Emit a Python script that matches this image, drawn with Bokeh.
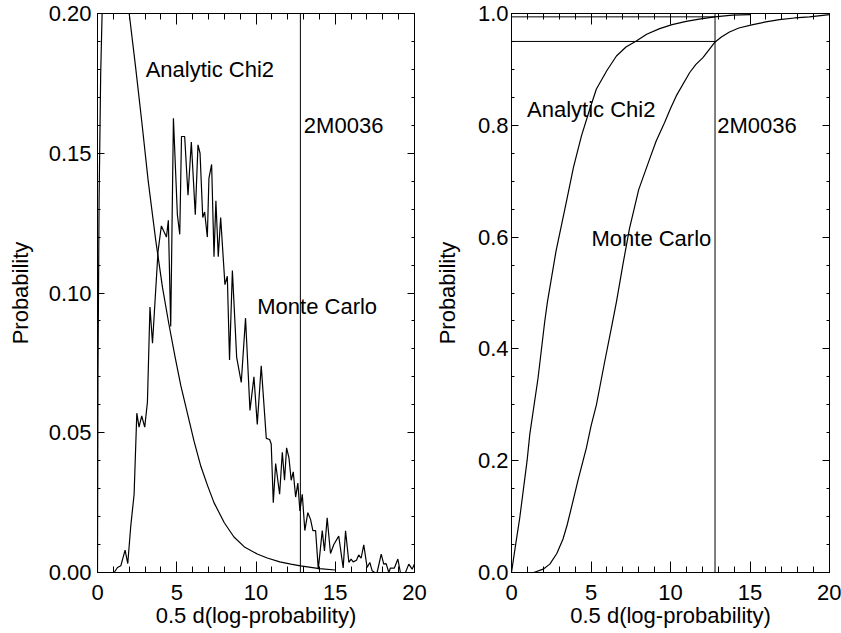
from bokeh.plotting import figure
from bokeh.layouts import row
from bokeh.models import Range1d, FixedTicker, LinearAxis, Span, PrintfTickFormatter
from bokeh.core.properties import value
from bokeh.embed import file_html
from bokeh.resources import INLINE

FONT = "Liberation Sans"

# ---------------- data ----------------
# Monte Carlo histogram (left panel)
mc_pdf_x = [0.94, 1.05, 1.26, 1.47, 1.74, 1.91, 2.10, 2.31, 2.48, 2.62, 2.79, 2.98, 3.15, 3.31, 3.47,
            3.82, 4.03, 4.35, 4.47, 4.62, 4.79, 5.04, 5.19, 5.30, 5.50, 5.71, 5.92, 6.17, 6.34, 6.47,
            6.64, 6.76, 6.93, 7.03, 7.20, 7.35, 7.47, 7.62, 7.77, 8.04, 8.19, 8.33, 8.51, 8.78, 9.07,
            9.34, 9.62, 9.87, 10.08, 10.33, 10.65, 10.86, 10.96, 11.09, 11.24, 11.49, 11.66, 11.80,
            11.93, 12.08, 12.22, 12.35, 12.50, 12.64, 12.77, 12.92, 13.08, 13.27, 13.44, 13.59, 13.76,
            13.93, 14.18, 14.32, 14.49, 14.70, 14.91, 15.22, 15.50, 15.65, 15.86, 16.00, 16.13, 16.34,
            16.48, 16.63, 16.80, 17.01, 17.18, 17.33, 17.49, 17.64, 17.90, 18.06, 18.21, 18.38, 18.48,
            18.73, 18.95, 19.11, 19.43, 19.64, 19.85, 20.0]
mc_pdf_y = [0.0, 0.0, 0.0018, 0.0024, 0.008, 0.0032, 0.0167, 0.028, 0.057, 0.052, 0.056, 0.052, 0.061, 0.095, 0.082,
            0.115, 0.124, 0.120, 0.126, 0.088, 0.1625, 0.128, 0.121, 0.156, 0.156, 0.135, 0.154, 0.128, 0.153, 0.150,
            0.127, 0.129, 0.120, 0.141, 0.146, 0.113, 0.133, 0.113, 0.127, 0.103, 0.106, 0.076, 0.108, 0.077, 0.068,
            0.091, 0.058, 0.070, 0.053, 0.074, 0.048, 0.0476, 0.046, 0.025, 0.039, 0.028, 0.043, 0.033,
            0.0446, 0.041, 0.033, 0.036, 0.027, 0.032, 0.022, 0.028, 0.015, 0.0214, 0.019, 0.015, 0.015,
            0.0012, 0.015, 0.0077, 0.0196, 0.0068, 0.010, 0.013, 0.0016, 0.0149, 0.0036, 0.0048, 0.0038, 0.0044,
            0.0063, 0.0051, 0.0099, 0.0018, 0.0036, 0.0006, 0.0, 0.0, 0.0066, 0.003, 0.0032, 0.0, 0.0016,
            0.0016, 0.0048, 0.0, 0.0, 0.003, 0.0012, 0.003]

# Analytic chi2 density (left panel)
an_pdf_x = [0.0, 0.03, 0.10, 0.20, 0.29, 0.50, 0.90, 1.40, 2.00, 2.40, 2.80, 3.20, 3.67, 4.10, 4.50,
            4.90, 5.25, 5.67, 6.09, 6.52, 6.95, 7.35, 8.00, 8.61, 9.30, 10.08, 10.71, 11.50, 12.20,
            12.81, 14.00, 15.00]
an_pdf_y = [0.0, 0.07, 0.133, 0.178, 0.200, 0.225, 0.243, 0.235, 0.200, 0.181, 0.161, 0.140, 0.119, 0.102, 0.089,
            0.077, 0.067, 0.057, 0.047, 0.038, 0.031, 0.025, 0.0178, 0.0127, 0.0090, 0.0066, 0.0052, 0.0038, 0.0030,
            0.0024, 0.0014, 0.0009]

# Cumulative distributions (right panel)
mc_cdf_x = [1.0, 1.4, 1.99, 2.41, 2.85, 3.24, 3.50, 3.87, 4.20, 4.71, 5.00, 5.34, 5.86, 6.28, 6.60, 7.00,
            7.42, 8.00, 8.69, 9.10, 9.63, 10.00, 10.37, 11.20, 11.60, 12.04, 12.77, 13.20, 13.71, 14.30,
            15.18, 16.00, 16.85, 17.80, 18.74, 20.0]
mc_cdf_y = [0.0, 0.0, 0.006, 0.015, 0.034, 0.060, 0.085, 0.128, 0.167, 0.223, 0.262, 0.300, 0.377, 0.437, 0.484, 0.550,
            0.615, 0.685, 0.740, 0.772, 0.805, 0.830, 0.853, 0.894, 0.909, 0.921, 0.948, 0.958, 0.967, 0.974,
            0.980, 0.985, 0.989, 0.992, 0.994, 0.998]
an_cdf_x = [0.0, 0.25, 0.52, 0.98, 1.15, 1.67, 2.09, 2.26, 2.80, 3.45, 3.90, 4.40, 4.90, 5.34, 6.00, 6.60,
            7.20, 7.85, 8.50, 9.32, 10.10, 10.99, 11.80, 12.77, 13.90, 15.0]
an_cdf_y = [0.0, 0.048, 0.098, 0.200, 0.247, 0.348, 0.449, 0.484, 0.575, 0.663, 0.725, 0.781, 0.827, 0.865, 0.898, 0.924,
            0.940, 0.951, 0.963, 0.973, 0.980, 0.986, 0.990, 0.994, 0.997, 0.998]

# 2M0036 value and the cumulative probabilities reached there
obj_name = "2M0036"
obj_x = 12.8
obj_cdf_analytic = 0.994
obj_cdf_mc = 0.950

# ticks
x_major = [0, 5, 10, 15, 20]
x_minor = list(range(0, 21))
y1_major = [0.0, 0.05, 0.10, 0.15, 0.20]
y1_minor = [i / 100 for i in range(0, 21)]
y2_major = [0.0, 0.2, 0.4, 0.6, 0.8, 1.0]
y2_minor = [i / 20 for i in range(0, 21)]

x_title = "0.5 d(log-probability)"
y_title = "Probability"
lab_an = "Analytic Chi2"
lab_mc = "Monte Carlo"

FS = "22px"
LW = 1.2


def style(ax, major_in, minor_in, labels=True, standoff=6, title_standoff=0):
    ax.major_tick_in = major_in
    ax.major_tick_out = 0
    ax.minor_tick_in = minor_in
    ax.minor_tick_out = 0
    ax.axis_line_color = "black"
    ax.major_tick_line_color = "black"
    ax.minor_tick_line_color = "black"
    ax.major_label_text_font = FONT
    ax.axis_label_text_font = FONT
    ax.axis_label_text_font_style = "normal"
    ax.axis_label_text_font_size = FS
    ax.axis_label_text_color = "black"
    ax.axis_label_standoff = title_standoff
    if labels:
        ax.major_label_text_color = "black"
        ax.major_label_text_font_size = FS
        ax.major_label_standoff = standoff
    else:
        ax.major_label_text_color = None
        ax.major_label_text_font_size = "1px"
        ax.major_label_standoff = 0
        ax.axis_label = None


def make_panel(width, left, right, yr, ymaj, ymin, yfmt, ystand, ytitle_stand):
    p = figure(width=width, height=633, x_range=Range1d(0, 20), y_range=Range1d(*yr),
               output_backend="svg", toolbar_location=None,
               min_border_left=left, min_border_right=right, min_border_top=13, min_border_bottom=61)
    p.grid.visible = False
    p.outline_line_color = "black"
    p.background_fill_color = "white"
    p.border_fill_color = "white"
    xa = p.xaxis[0]
    ya = p.yaxis[0]
    xa.ticker = FixedTicker(ticks=x_major, minor_ticks=x_minor)
    ya.ticker = FixedTicker(ticks=ymaj, minor_ticks=ymin)
    ya.formatter = PrintfTickFormatter(format=yfmt)
    xa.axis_label = x_title
    ya.axis_label = y_title
    style(xa, 11, 6, True, 12, 0)
    style(ya, 7, 3, True, ystand, ytitle_stand)
    top = LinearAxis(ticker=FixedTicker(ticks=x_major, minor_ticks=x_minor))
    rgt = LinearAxis(ticker=FixedTicker(ticks=ymaj, minor_ticks=ymin))
    style(top, 11, 6, False)
    style(rgt, 7, 3, False)
    p.add_layout(top, "above")
    p.add_layout(rgt, "right")
    p.add_layout(Span(location=obj_x, dimension="height", line_color="black", line_width=1))
    return p


def label(p, x, y, t):
    p.text(x=[x], y=[y], text=[t], text_font=value(FONT), text_font_size=FS,
           text_baseline="alphabetic", text_align="left", text_color="black")


p1 = make_panel(431, 97, 17, (0, 0.20), y1_major, y1_minor, "%.2f", 6, 13)
p1.line(mc_pdf_x, mc_pdf_y, line_color="black", line_width=LW)
p1.line(an_pdf_x, an_pdf_y, line_color="black", line_width=LW)
label(p1, 3.04, 0.180, lab_an)
label(p1, 13.02, 0.160, obj_name)
label(p1, 10.08, 0.095, lab_mc)

p2 = make_panel(410, 80, 12, (0, 1.0), y2_major, y2_minor, "%.1f", 3, 15)
p2.line(an_cdf_x, an_cdf_y, line_color="black", line_width=LW)
p2.line(mc_cdf_x, mc_cdf_y, line_color="black", line_width=LW)
p2.segment(x0=[0, 0], y0=[obj_cdf_analytic, obj_cdf_mc], x1=[obj_x, obj_x],
           y1=[obj_cdf_analytic, obj_cdf_mc], line_color="black", line_width=1)
label(p2, 0.98, 0.829, lab_an)
label(p2, 12.94, 0.799, obj_name)
label(p2, 5.03, 0.598, lab_mc)

layout = row(p1, p2)
open("out.html", "w").write(file_html(layout, INLINE))
